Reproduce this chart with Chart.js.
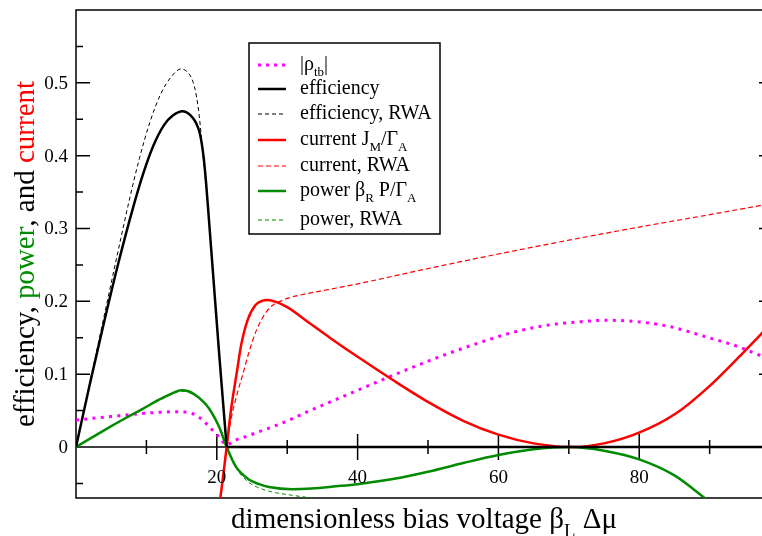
<!DOCTYPE html>
<html>
<head>
<meta charset="utf-8">
<script src="https://cdn.jsdelivr.net/npm/chart.js@4.4.1/dist/chart.umd.min.js"></script>
<style>
  html, body { margin: 0; padding: 0; background: #fff; overflow: hidden; }
  #wrap { width: 790px; height: 536px; }
</style>
</head>
<body>
<div id="wrap"><canvas id="c" width="790" height="536"></canvas></div>
<script>
// values (x = beta_L * delta mu)
const rhoX = [0, 3, 6, 9.4, 12, 14.2, 15.5, 16.5, 17.3, 18, 18.8, 19.4, 20.1, 20.6, 21.3, 22.7, 24.3, 26, 28, 30.3, 33, 36.9, 42.2, 47.7, 52.2, 56, 58.8, 62.3, 66.8, 71.6, 75.3, 79.8, 84.5, 89.2, 93.7, 97.1, 99];
const rhoY = [0.037, 0.04, 0.0428, 0.046, 0.0478, 0.0484, 0.048, 0.046, 0.042, 0.037, 0.029, 0.023, 0.016, 0.011, 0.003, 0.0096, 0.015, 0.021, 0.028, 0.037, 0.049, 0.065, 0.087, 0.109, 0.126, 0.139, 0.148, 0.158, 0.167, 0.172, 0.174, 0.172, 0.165, 0.152, 0.139, 0.126, 0.118];

const effX = [0, 2, 4, 6, 8, 9.5, 11, 12.5, 13.75, 15.15, 16.2, 17.05, 17.6, 18.1, 18.5, 18.9, 19.45, 20.4, 21.4];
const effY = [0, 0.088, 0.172, 0.252, 0.325, 0.374, 0.414, 0.442, 0.455, 0.461, 0.456, 0.445, 0.43, 0.4, 0.36, 0.31, 0.24, 0.12, 0];
const effTailX = [21.4, 99];
const effTailY = [0, 0];

const effRwaX = [0, 2, 4, 6, 7.5, 9, 10.5, 12, 13.5, 14.9, 15.8, 16.6, 17.1, 17.5, 18, 18.45, 18.9, 19.45, 20.4, 21.4];
const effRwaY = [0, 0.09, 0.18, 0.27, 0.336, 0.396, 0.446, 0.484, 0.508, 0.519, 0.515, 0.502, 0.482, 0.455, 0.405, 0.36, 0.31, 0.24, 0.12, 0];

const curX = [20.5, 21, 21.4, 22, 22.8, 23.5, 24.4, 25.5, 26.5, 27.2, 28.5, 30, 33.2, 36, 39.9, 45, 49.8, 55, 60, 65, 70.5, 75, 79.8, 85.2, 89.9, 94.6, 97.3, 99];
const curY = [-0.07, -0.032, 0, 0.05, 0.1, 0.142, 0.175, 0.195, 0.201, 0.202, 0.199, 0.192, 0.17, 0.1505, 0.1245, 0.092, 0.063, 0.036, 0.017, 0.005, 0, 0.005, 0.019, 0.046, 0.083, 0.128, 0.155, 0.173];

const curRwaX = [20.5, 21, 21.4, 22, 23, 23.7, 24.5, 25.7, 27, 28, 29, 30, 32, 34.7, 40, 50, 60, 70, 80, 90, 97.4, 99];
const curRwaY = [-0.07, -0.033, 0, 0.037, 0.077, 0.1, 0.128, 0.162, 0.185, 0.195, 0.2, 0.204, 0.209, 0.214, 0.224, 0.245, 0.265, 0.284, 0.302, 0.319, 0.332, 0.335];

const powX = [0, 2.35, 4.7, 7, 9.4, 11.8, 13.5, 14.9, 16, 17, 18, 18.9, 19.7, 20.4, 21.4, 22.7, 23.6, 24.6, 26, 27.4, 30.7, 33.5, 36.9, 40, 45, 50, 55, 60, 65, 70, 75, 80, 85, 89.3, 92];
const powY = [0, 0.0135, 0.027, 0.0395, 0.052, 0.065, 0.073, 0.078, 0.0765, 0.071, 0.063, 0.053, 0.04, 0.026, 0, -0.027, -0.037, -0.045, -0.051, -0.055, -0.058, -0.057, -0.054, -0.051, -0.044, -0.034, -0.022, -0.011, -0.003, 0, -0.005, -0.017, -0.039, -0.07, -0.09];

const powRwaX = [0, 4.7, 9.4, 11.8, 13.5, 15, 16, 17, 18, 18.9, 19.7, 20.4, 21.4, 22.7, 23.6, 24.6, 26.5, 28.5, 30.5, 32.7, 35, 38];
const powRwaY = [0, 0.027, 0.052, 0.064, 0.072, 0.0765, 0.075, 0.07, 0.062, 0.052, 0.039, 0.025, 0, -0.028, -0.04, -0.049, -0.058, -0.063, -0.066, -0.069, -0.073, -0.078];

const xMajorTicks = [20, 40, 60, 80];
const xMinorTicks = [10, 30, 50, 70, 90];
const xTickLabels = ['20', '40', '60', '80'];
const yMajorTicks = [0, 0.1, 0.2, 0.3, 0.4, 0.5];
const yMinorTicks = [-0.05, 0.05, 0.15, 0.25, 0.35, 0.45, 0.55];
const yTickLabels = ['0', '0.1', '0.2', '0.3', '0.4', '0.5'];

const GREEN = 'rgb(0,139,0)';
const SERIF = '"Liberation Serif", "DejaVu Serif", serif';

const pts = (xs, ys) => xs.map((x, i) => ({ x: x, y: ys[i] }));

const line = (data, color, width, dash) => ({
  data: data,
  borderColor: color,
  borderWidth: width,
  borderDash: dash || [],
  pointRadius: 0,
  fill: false,
  cubicInterpolationMode: 'monotone'
});

// legend entries; text parts: [text, isSubscript]
const legendRows = [
  { y: 65, color: 'magenta', width: 3, dash: [3, 5], parts: [['|\u03c1', 0], ['tb', 1], ['|', 0]] },
  { y: 89, color: '#000', width: 2.5, dash: [], parts: [['efficiency', 0]] },
  { y: 114, color: '#000', width: 1, dash: [4, 3], parts: [['efficiency, RWA', 0]] },
  { y: 140, color: 'red', width: 2.5, dash: [], parts: [['current J', 0], ['M', 1], ['/\u0393', 0], ['A', 1]] },
  { y: 166, color: 'red', width: 1.2, dash: [5, 3], parts: [['current, RWA', 0]] },
  { y: 191, color: GREEN, width: 2.5, dash: [], parts: [['power \u03b2', 0], ['R', 1], [' P/\u0393', 0], ['A', 1]] },
  { y: 220, color: GREEN, width: 1, dash: [4, 3], parts: [['power, RWA', 0]] }
];

function richText(ctx, parts, x, y, size, colors) {
  let cx = x;
  parts.forEach((p, i) => {
    const s = p[1] ? size * 0.65 : size;
    ctx.font = s + 'px ' + SERIF;
    if (colors) ctx.fillStyle = colors[i];
    ctx.fillText(p[0], cx, p[1] ? y + size * 0.3 : y);
    cx += ctx.measureText(p[0]).width;
  });
  return cx - x;
}

function richWidth(ctx, parts, size) {
  let w = 0;
  parts.forEach(p => {
    ctx.font = (p[1] ? size * 0.65 : size) + 'px ' + SERIF;
    w += ctx.measureText(p[0]).width;
  });
  return w;
}

const axesPlugin = {
  id: 'grace',
  beforeDatasetsDraw(chart) {
    const { ctx, chartArea: a, scales: { x, y } } = chart;
    ctx.save();
    ctx.strokeStyle = '#000';
    ctx.lineWidth = 1.5;
    ctx.strokeRect(a.left, a.top, a.right - a.left, a.bottom - a.top);
    ctx.beginPath();
    yMajorTicks.forEach(v => {
      const p = y.getPixelForValue(v);
      ctx.moveTo(a.left, p); ctx.lineTo(a.left + 14, p);
      ctx.moveTo(a.right, p); ctx.lineTo(a.right - 14, p);
    });
    yMinorTicks.forEach(v => {
      const p = y.getPixelForValue(v);
      ctx.moveTo(a.left, p); ctx.lineTo(a.left + 7, p);
      ctx.moveTo(a.right, p); ctx.lineTo(a.right - 7, p);
    });
    const y0 = y.getPixelForValue(0);
    ctx.moveTo(a.left, y0); ctx.lineTo(a.right, y0);
    xMajorTicks.forEach(v => {
      const p = x.getPixelForValue(v);
      ctx.moveTo(p, y0 - 13); ctx.lineTo(p, y0 + 13);
    });
    xMinorTicks.forEach(v => {
      const p = x.getPixelForValue(v);
      ctx.moveTo(p, y0 - 7); ctx.lineTo(p, y0 + 7);
    });
    ctx.stroke();
    ctx.restore();
  },
  afterDraw(chart) {
    const { ctx, chartArea: a, scales: { x, y } } = chart;
    ctx.save();
    ctx.fillStyle = '#000';
    ctx.font = '19px ' + SERIF;
    ctx.textAlign = 'right';
    ctx.textBaseline = 'middle';
    yMajorTicks.forEach((v, i) => ctx.fillText(yTickLabels[i], a.left - 8, y.getPixelForValue(v) + 1));
    ctx.textAlign = 'center';
    ctx.textBaseline = 'alphabetic';
    xMajorTicks.forEach((v, i) => ctx.fillText(xTickLabels[i], x.getPixelForValue(v), 483));

    // x title
    ctx.textAlign = 'left';
    const xt = [['dimensionless bias voltage \u03b2', 0], ['L', 1], [' \u0394\u03bc', 0]];
    const xw = richWidth(ctx, xt, 29);
    ctx.fillStyle = '#000';
    richText(ctx, xt, 424 - xw / 2, 528, 29);

    // y title, coloured words
    const yt = [['efficiency, ', 0], ['power', 0], [', and ', 0], ['current', 0]];
    const yw = richWidth(ctx, yt, 29);
    ctx.save();
    ctx.translate(34, 254);
    ctx.rotate(-Math.PI / 2);
    richText(ctx, yt, -yw / 2, 0, 29, ['#000', GREEN, '#000', 'red']);
    ctx.restore();

    // legend box
    ctx.fillStyle = '#fff';
    ctx.fillRect(249, 43, 191, 191);
    ctx.strokeStyle = '#000';
    ctx.lineWidth = 1.5;
    ctx.strokeRect(249, 43, 191, 191);
    legendRows.forEach(r => {
      ctx.beginPath();
      ctx.strokeStyle = r.color;
      ctx.lineWidth = r.width;
      ctx.setLineDash(r.dash);
      ctx.moveTo(258, r.y);
      ctx.lineTo(286, r.y);
      ctx.stroke();
      ctx.setLineDash([]);
      ctx.fillStyle = '#000';
      richText(ctx, r.parts, 300, r.y + 5, 20);
    });
    ctx.restore();
  }
};

new Chart(document.getElementById('c'), {
  type: 'line',
  data: {
    datasets: [
      line(pts(effX, effY), '#000', 2.5),
      line(pts(effTailX, effTailY), '#000', 2.5),
      line(pts(effRwaX, effRwaY), '#000', 1, [4, 3]),
      line(pts(curX, curY), 'red', 2.5),
      line(pts(curRwaX, curRwaY), 'red', 1.2, [5, 3]),
      line(pts(powX, powY), GREEN, 2.5),
      line(pts(powRwaX, powRwaY), GREEN, 1, [4, 3]),
      line(pts(rhoX, rhoY), 'magenta', 3, [3, 5.3])
    ]
  },
  options: {
    responsive: false,
    animation: false,
    layout: { padding: { left: 76, right: 17, top: 10, bottom: 38 } },
    plugins: { legend: { display: false }, tooltip: { enabled: false } },
    scales: {
      x: { type: 'linear', min: 0, max: 99, display: false },
      y: { type: 'linear', min: -0.07, max: 0.6, display: false }
    }
  },
  plugins: [axesPlugin]
});
</script>
</body>
</html>
